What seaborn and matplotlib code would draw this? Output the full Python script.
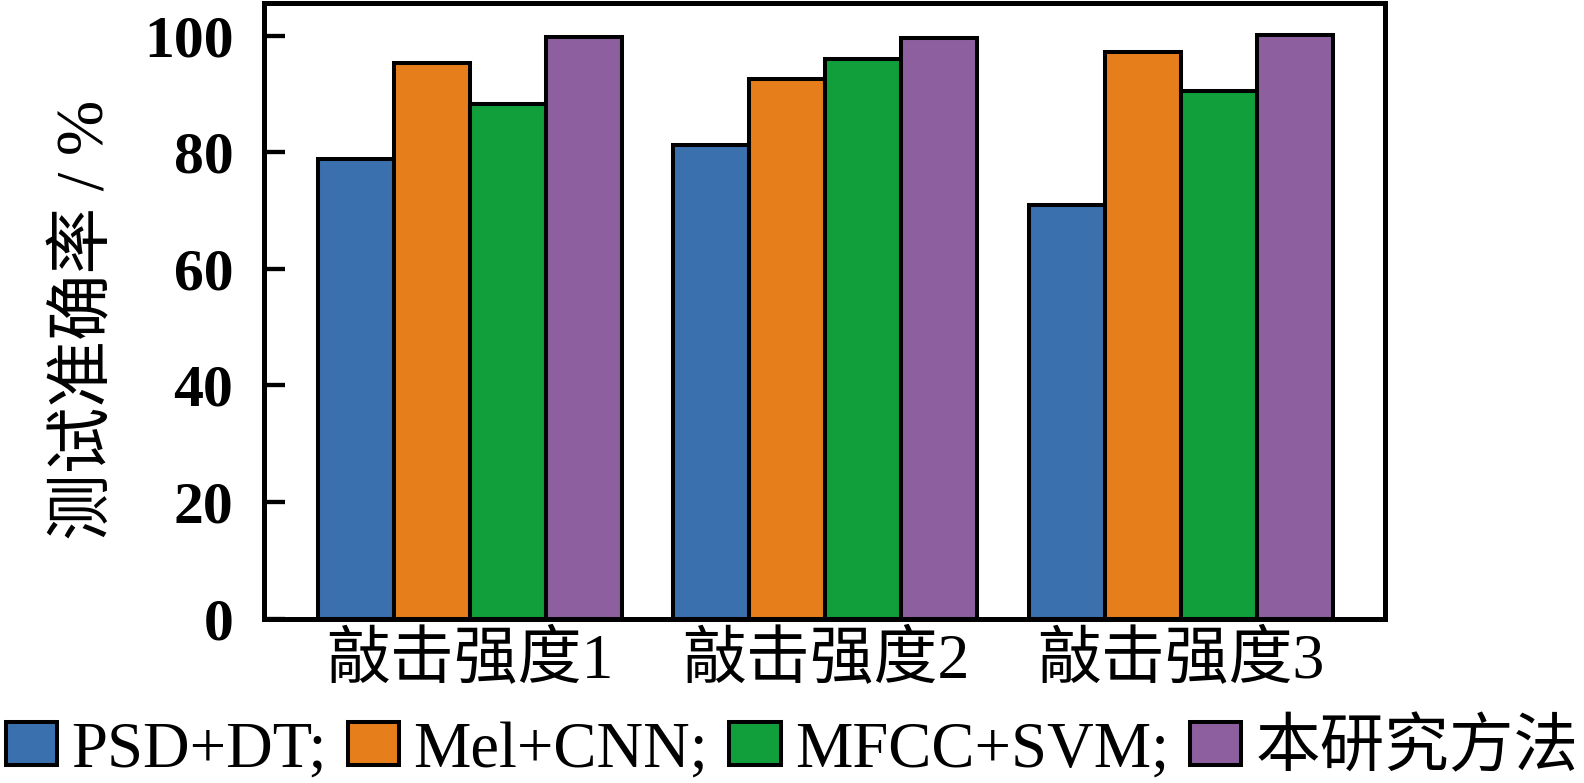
import pandas as pd
import numpy as np
import matplotlib
matplotlib.use('Agg')
import matplotlib.pyplot as plt
import seaborn as sns

# data
groups = ['敲击强度1', '敲击强度2', '敲击强度3']
methods = ['PSD+DT;', 'Mel+CNN;', 'MFCC+SVM;', '本研究方法']
psd_dt = [78.8, 81.2, 70.9]
mel_cnn = [95.3, 92.6, 97.2]
mfcc_svm = [88.2, 96.0, 90.5]
ours = [99.8, 99.6, 100.2]
colors = ['#3A70AD', '#E67E1C', '#109F3A', '#8D5F9F']
yticks = [0, 20, 40, 60, 80, 100]

rows = []
for m, vals in zip(methods, [psd_dt, mel_cnn, mfcc_svm, ours]):
    for g, v in zip(groups, vals):
        rows.append({'group': g, 'method': m, 'acc': v})
df = pd.DataFrame(rows)

sns.set_style('ticks', {'axes.edgecolor': 'black', 'text.color': 'black',
                        'axes.labelcolor': 'black', 'xtick.color': 'black',
                        'ytick.color': 'black'})
plt.rcParams['font.family'] = ['Liberation Serif', 'Noto Sans CJK SC']
plt.rcParams['axes.unicode_minus'] = False

fig = plt.figure(figsize=(15.84, 7.83), dpi=100)
ax = fig.add_axes([264/1584, 1-618.5/783, (1385-264)/1584, (618.5-2.5)/783])

sns.barplot(data=df, x='group', y='acc', hue='method', order=groups,
            hue_order=methods, palette=colors, width=0.855, gap=0,
            edgecolor='black', linewidth=2.9, saturation=1, ax=ax)

ax.set_xlim(-0.579, 2.574)
ax.set_ylim(0, 105.7)
ax.set_yticks(yticks)
ax.set_yticklabels([str(t) for t in yticks], fontsize=43, fontweight='bold')
ax.tick_params(axis='y', direction='in', length=15, width=3, pad=22,
               left=True, right=False, color='black', labelcolor='black')
ax.tick_params(axis='x', length=0, pad=10, labelsize=46, labelcolor='black')
ax.set_xlabel('')
ax.set_ylabel('测试准确率 / %', fontsize=48, color='black')
ax.yaxis.set_label_coords(-0.131, 0.484)
for s in ax.spines.values():
    s.set_linewidth(3.6)
    s.set_color('black')

# inward tick marks on the left spine (drawn explicitly so they always show)
ax.hlines(yticks, 0, 0.0187, transform=ax.get_yaxis_transform(),
          colors='black', linewidth=3, clip_on=False, zorder=3)

handles, labels = ax.get_legend_handles_labels()
ax.get_legend().remove()
fig.legend(handles, labels, loc='center', bbox_to_anchor=(0.5, 0.042), ncol=4,
           frameon=False, fontsize=46.5, handlelength=0.8, handleheight=0.63,
           handletextpad=0.22, columnspacing=0.32, borderaxespad=0, borderpad=0,
           labelcolor='black')

fig.savefig('out.png', dpi=100)
